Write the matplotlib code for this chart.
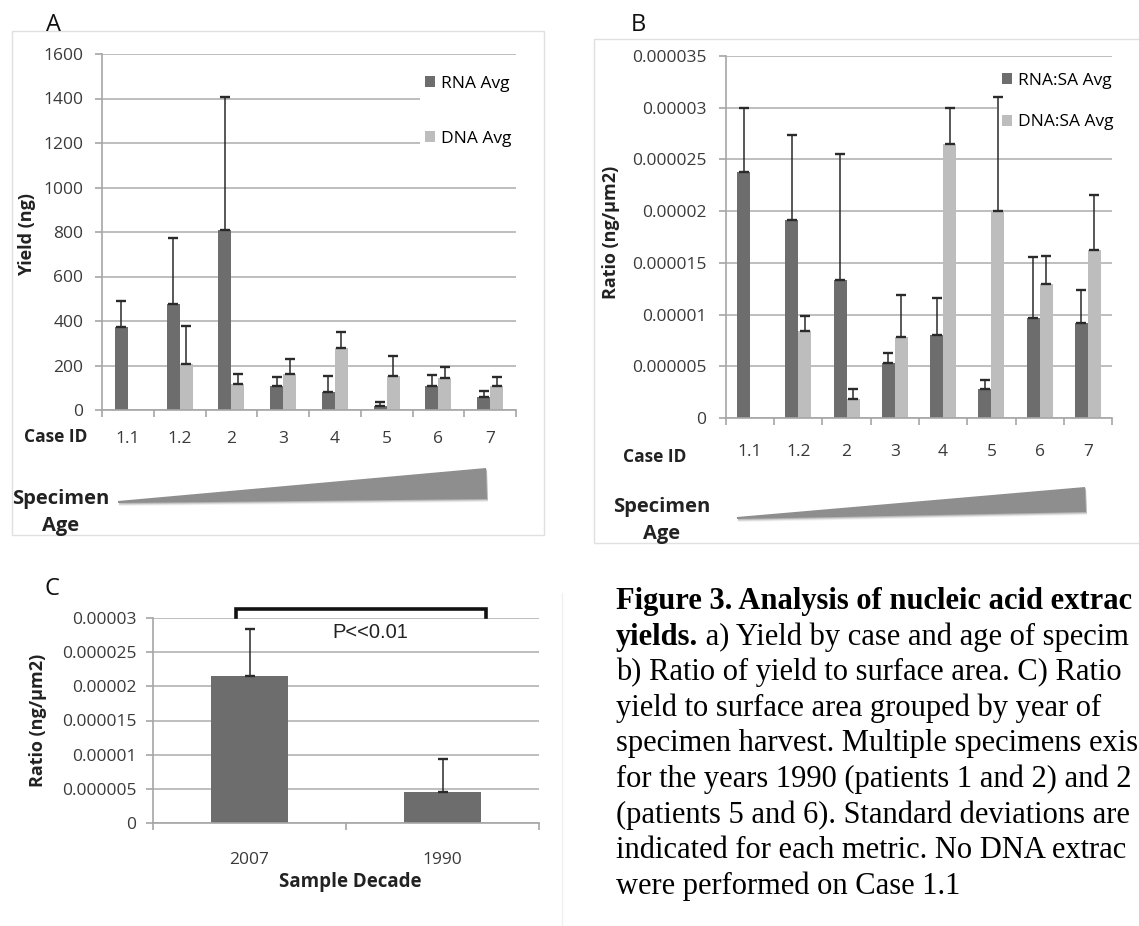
import numpy as np
import matplotlib
matplotlib.use('Agg')
import matplotlib.pyplot as plt
from matplotlib.patches import Rectangle, Polygon
from matplotlib.transforms import Affine2D
from matplotlib.ticker import FixedLocator, FuncFormatter

plt.rcParams['font.family'] = ['Open Sans', 'DejaVu Sans']

# ---- data ----
CASES = ['1.1', '1.2', '2', '3', '4', '5', '6', '7']
RNA_YIELD = [375, 475, 810, 108, 82, 20, 107, 59]
RNA_YIELD_SD = [115, 300, 595, 42, 71, 16, 52, 28]
DNA_YIELD = [0, 208, 117, 162, 278, 152, 146, 107]
DNA_YIELD_SD = [0, 169, 43, 69, 73, 90, 49, 43]

RNA_SA = [23.8e-6, 19.15e-6, 13.3e-6, 5.3e-6, 8.0e-6, 2.8e-6, 9.65e-6, 9.15e-6]
RNA_SA_SD = [6.2e-6, 8.25e-6, 12.2e-6, 1.0e-6, 3.6e-6, 0.9e-6, 5.95e-6, 3.2e-6]
DNA_SA = [0, 8.45e-6, 1.85e-6, 7.85e-6, 26.5e-6, 20.0e-6, 13.0e-6, 16.2e-6]
DNA_SA_SD = [0, 1.4e-6, 1.0e-6, 4.0e-6, 3.45e-6, 11.0e-6, 2.7e-6, 5.4e-6]

DECADES = ['2007', '1990']
DECADE_RATIO = [21.5e-6, 4.55e-6]
DECADE_SD = [6.9e-6, 4.8e-6]

# caption as visible in the (cropped) reference
CAPTION = [
    'Figure 3. Analysis of nucleic acid extrac',
    'yields.',
    'b) Ratio of yield to surface area. C) Ratio',
    'yield to surface area grouped by year of',
    'specimen harvest. Multiple specimens exis',
    'for the years 1990 (patients 1 and 2) and 2',
    '(patients 5 and 6). Standard deviations are',
    'indicated for each metric. No DNA extrac',
    'were performed on Case 1.1',
]
CAPTION_L2 = ' a) Yield by case and age of specim'

DARK, LIGHT = '#6d6d6d', '#bdbdbd'
GRID, SPINE, TXT = '#b9b9b9', '#a6a6a6', '#3a3a3a'
LAB = '#222222'

W, H = 1139, 926
fig = plt.figure(figsize=(W / 100, H / 100), dpi=100)
PX = Affine2D().scale(1 / W, -1 / H).translate(0, 1) + fig.transFigure


def box(l, t, r, b):
    return [l / W, 1 - b / H, (r - l) / W, (b - t) / H]


def style(ax, n, ylim, step, xpad, ypad):
    ax.set_xlim(-0.5, n - 0.5)
    ax.set_ylim(*ylim)
    ax.set_yticks(np.arange(0, ylim[1] + step / 2, step))
    ax.set_axisbelow(True)
    ax.grid(axis='y', color=GRID, lw=1.3)
    for s in ['top', 'right']:
        ax.spines[s].set_visible(False)
    for s in ['left', 'bottom']:
        ax.spines[s].set_color(SPINE)
        ax.spines[s].set_linewidth(1.2)
    ax.xaxis.set_minor_locator(FixedLocator(np.arange(-0.5, n, 1.0)))
    ax.tick_params(axis='x', which='major', length=0, pad=xpad, labelsize=12.5, labelcolor=TXT)
    ax.tick_params(axis='x', which='minor', length=5, color=SPINE, width=1.2)
    ax.tick_params(axis='y', length=5, color=SPINE, width=1.2, pad=ypad, labelsize=12.5, labelcolor=TXT)


def bars(ax, vals, sds, offset, width, color):
    x = np.arange(len(vals)) + offset
    ax.bar(x, vals, width, color=color, zorder=2)
    v, s = np.array(vals), np.array(sds)
    m = s > 0
    ax.errorbar(x[m], v[m], yerr=[np.zeros(m.sum()), s[m]], fmt='none',
                ecolor='#2a2a2a', elinewidth=1.1, capsize=3.5, capthick=1.7, zorder=3)


def wedge(pts):
    for k, a in [(3, 0.06), (2, 0.1), (1, 0.15)]:
        sh = [(x + 1, y + k) for x, y in pts]
        fig.add_artist(Polygon(sh, closed=True, transform=PX, fc='#000000', ec='none', alpha=a))
    fig.add_artist(Polygon(pts, closed=True, transform=PX, fc='#8e8e8e', ec='none'))


def frame(l, t, r, b):
    fig.add_artist(Rectangle((l, t), r - l, b - t, transform=PX, fill=False, ec='#e0e0e0', lw=1))


def legend_box(ax, l, t, r, b):
    ax.add_patch(Rectangle((l, t), r - l, b - t, transform=PX, fc='white', ec='none', zorder=0.8))


def label(x, y, s, size=13, rot=0):
    fig.text(x, y, s, transform=PX, rotation=rot, ha='center', va='center',
             fontsize=size, fontweight='bold', color=LAB)


# ---- panel A ----
frame(12, 31, 544, 535)
axA = fig.add_axes(box(102, 54, 516, 410))
style(axA, 8, (0, 1600), 200, 15, 8.5)
bars(axA, RNA_YIELD, RNA_YIELD_SD, -0.125, 0.25, DARK)
bars(axA, DNA_YIELD, DNA_YIELD_SD, 0.125, 0.25, LIGHT)
axA.set_xticks(range(8), CASES)
legend_box(axA, 420, 57, 516, 152)
axA.legend([Rectangle((0, 0), 1, 1, fc=DARK), Rectangle((0, 0), 1, 1, fc=LIGHT)],
           ['RNA Avg', 'DNA Avg'], loc='upper left', bbox_to_anchor=(425 / W, 1 - 76 / H),
           bbox_transform=fig.transFigure, frameon=False, fontsize=12.5,
           handlelength=0.6, handleheight=0.6, handletextpad=0.3,
           labelspacing=2.25, borderpad=0, borderaxespad=0)
label(27, 235, 'Yield (ng)', 13, 90)
label(56, 437, 'Case ID', 12.5)
fig.text(46, 25, 'A', transform=PX, ha='left', va='center', fontsize=17, color='#111111')
label(61, 499, 'Specimen', 14.5)
label(61, 526, 'Age', 14.5)
wedge([(118, 501), (486, 468), (487, 499), (118, 503)])

# ---- panel B ----
frame(594, 39, 1150, 543)
axB = fig.add_axes(box(726, 56, 1112, 418))
style(axB, 8, (0, 0.000035), 0.000005, 19, 9)
bars(axB, RNA_SA, RNA_SA_SD, -0.135, 0.27, DARK)
bars(axB, DNA_SA, DNA_SA_SD, 0.135, 0.27, LIGHT)
axB.set_xticks(range(8), CASES)
fmt = FuncFormatter(lambda v, p: f'{v:.6f}'.rstrip('0').rstrip('.'))
axB.yaxis.set_major_formatter(fmt)
legend_box(axB, 997, 62, 1112, 134)
axB.legend([Rectangle((0, 0), 1, 1, fc=DARK), Rectangle((0, 0), 1, 1, fc=LIGHT)],
           ['RNA:SA Avg', 'DNA:SA Avg'], loc='upper left', bbox_to_anchor=(1002 / W, 1 - 73 / H),
           bbox_transform=fig.transFigure, frameon=False, fontsize=12.5,
           handlelength=0.6, handleheight=0.6, handletextpad=0.3,
           labelspacing=1.45, borderpad=0, borderaxespad=0)
label(611, 232, 'Ratio (ng/µm2)', 13, 90)
label(655, 457, 'Case ID', 12.5)
fig.text(631, 25, 'B', transform=PX, ha='left', va='center', fontsize=17, color='#111111')
label(662, 507, 'Specimen', 14.5)
label(662, 534, 'Age', 14.5)
wedge([(737, 517), (1085, 487), (1086, 512), (737, 519)])

# ---- panel C ----
fig.add_artist(plt.Line2D([562, 562], [593, 926], transform=PX, color='#f0f0f0', lw=1))
axC = fig.add_axes(box(153, 618, 539, 823))
style(axC, 2, (0, 0.00003), 0.000005, 21, 7)
axC.bar(range(2), DECADE_RATIO, 0.4, color=DARK, zorder=2)
axC.errorbar(range(2), DECADE_RATIO, yerr=[[0, 0], DECADE_SD], fmt='none', ecolor='#2a2a2a',
             elinewidth=1.1, capsize=3.5, capthick=1.7, zorder=3)
axC.set_xticks(range(2), DECADES)
axC.yaxis.set_major_formatter(fmt)
label(38, 720, 'Ratio (ng/µm2)', 13, 90)
label(350, 882, 'Sample Decade', 13.5)
fig.text(44, 589, 'C', transform=PX, ha='left', va='center', fontsize=17, color='#111111')
fig.add_artist(plt.Line2D([236, 236, 486, 486], [617, 609, 609, 617], transform=PX,
                          color='#111111', lw=2.6, solid_joinstyle='miter'))
fig.text(370, 633, 'P<<0.01', transform=PX, ha='center', va='center', fontsize=14.5,
         family=['Liberation Sans', 'DejaVu Sans'], color='#222222')

# ---- caption ----
y0, dy = 609, 35.6
serif = ['Liberation Serif', 'DejaVu Serif']
for i, line in enumerate(CAPTION):
    bold = i in (0, 1)
    t = fig.text(616, y0 + i * dy, line, transform=PX, ha='left', va='baseline', fontsize=22,
                 family=serif, fontweight='bold' if bold else 'normal', color='black')
    if i == 1:
        plt.annotate(CAPTION_L2, xy=(1, 0), xycoords=t, ha='left', va='bottom',
                     fontsize=22, family=serif, color='black', annotation_clip=False)

fig.savefig('out.png', dpi=100)
